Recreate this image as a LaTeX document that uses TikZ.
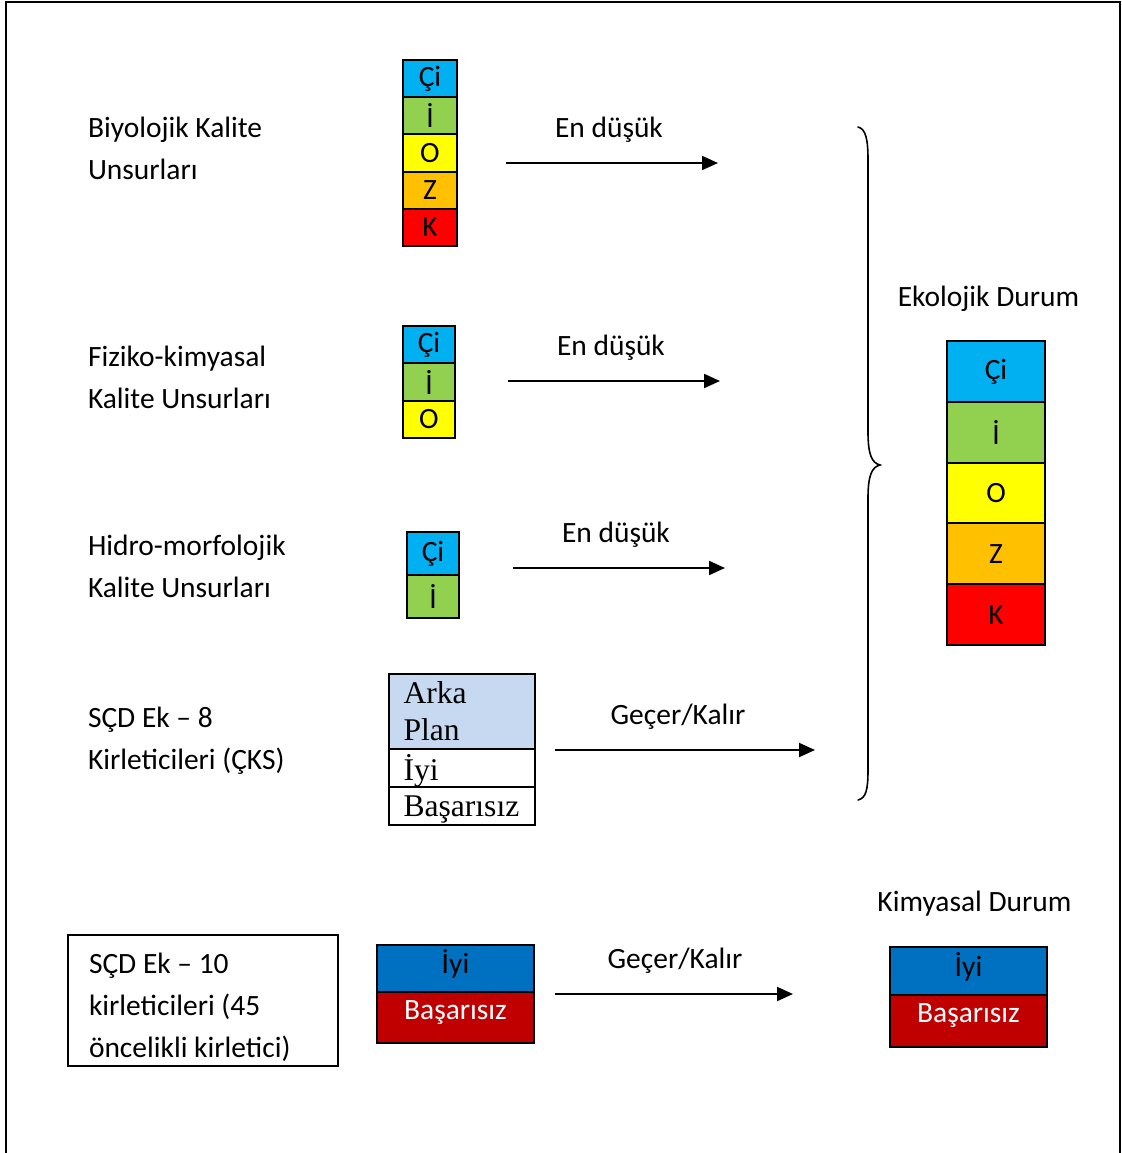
\documentclass[tikz,border=0pt]{standalone}
\usepackage{fontspec}
\setmainfont{Carlito}
\newfontfamily\serifface{Liberation Serif}
\usetikzlibrary{arrows.meta}
\definecolor{cCi}{HTML}{00B0F0}
\definecolor{cIy}{HTML}{92D050}
\definecolor{cO}{HTML}{FFFF00}
\definecolor{cZ}{HTML}{FFC000}
\definecolor{cK}{HTML}{FF0000}
\definecolor{cBlue}{HTML}{0070C0}
\definecolor{cRed}{HTML}{C00000}
\definecolor{cPale}{HTML}{C6D9F1}
% left-aligned block of lines whose baseline is that of the first line
\newcommand\linesblock[1]{\begin{tabular}[t]{@{}l@{}}#1\end{tabular}}
\begin{document}
\begin{tikzpicture}[x=0.75pt,y=-0.75pt,
  every node/.style={inner sep=0pt,outer sep=0pt},
  txt/.style={font=\fontsize{22.1}{31.5}\selectfont},
  lbl/.style={txt,anchor=base west},
  mid/.style={txt,anchor=base},
  serif/.style={font=\serifface\fontsize{23.7}{27.75}\selectfont,anchor=base west},
  cell/.style={draw,line width=1.4pt,txt},
  smallstack/.style={cell,minimum width=39pt},
  bigstack/.style={cell,minimum width=73.5pt,minimum height=45.6pt},
  wide/.style={cell,minimum width=117.75pt},
  tbl/.style={draw,line width=1.4pt,minimum width=109.5pt},
  arr/.style={line width=1.5pt,-{Triangle[length=12pt,width=10.5pt]}},
  brace/.style={line width=1.2pt,line cap=round}
]
\useasboundingbox (0,0) rectangle (1121,1153);
% open frame
\draw[line width=1.5pt] (6,1153) -- (6,2) -- (1119.5,2) -- (1119.5,1153);

% left labels
\node[lbl] (tBio) at (88,137) {\linesblock{Biyolojik Kalite\\Unsurları}};
\node[lbl] (tFiz) at (88,366) {\linesblock{Fiziko-kimyasal\\Kalite Unsurları}};
\node[lbl] (tHid) at (88,555) {\linesblock{Hidro-morfolojik\\Kalite Unsurları}};
\node[lbl] (tCks) at (88,727) {\linesblock{SÇD Ek – 8\\Kirleticileri (ÇKS)}};
\node[draw,line width=1.4pt,minimum width=202.5pt,minimum height=98.25pt] (box10) at (203,1000.5) {};
\node[lbl] (t10) at (89,973) {\linesblock{SÇD Ek – 10\\kirleticileri (45\\öncelikli kirletici)}};

% biological quality elements
\node[smallstack,minimum width=40.5pt,minimum height=27.9pt,fill=cCi] (b1) at (430,78.6) {Çi};
\node[smallstack,minimum width=40.5pt,minimum height=27.9pt,fill=cIy] (b2) at (430,115.8) {İ};
\node[smallstack,minimum width=40.5pt,minimum height=27.9pt,fill=cO]  (b3) at (430,153) {O};
\node[smallstack,minimum width=40.5pt,minimum height=27.9pt,fill=cZ]  (b4) at (430,190.2) {Z};
\node[smallstack,minimum width=40.5pt,minimum height=27.9pt,fill=cK]  (b5) at (430,227.4) {K};

% physico-chemical quality elements
\node[smallstack,minimum height=28pt,fill=cCi] (f1) at (429,344.7) {Çi};
\node[smallstack,minimum height=28pt,fill=cIy] (f2) at (429,382) {İ};
\node[smallstack,minimum height=28pt,fill=cO]  (f3) at (429,419.3) {O};

% hydromorphological quality elements
\node[smallstack,minimum height=32.25pt,fill=cCi] (h1) at (433,553.5) {Çi};
\node[smallstack,minimum height=32.25pt,fill=cIy] (h2) at (433,596.5) {İ};

% Annex 8 pollutants table
\node[tbl,minimum height=56.25pt,fill=cPale] (p1) at (462,711.5) {};
\node[tbl,minimum height=28.5pt] (p2) at (462,768) {};
\node[tbl,minimum height=28.5pt] (p3) at (462,806) {};
\node[serif] (p1t) at (403.5,703.3) {Arka};
\node[serif] (p1u) at (403.5,740) {Plan};
\node[serif] (p2t) at (403.5,780.7) {İyi};
\node[serif] (p3t) at (403.5,816.7) {Başarısız};

% Annex 10 pollutants
\node[wide,minimum height=35.25pt,fill=cBlue] (k1) at (455.5,968.5) {};
\node[wide,minimum height=38.25pt,fill=cRed] (k2) at (455.5,1017.5) {};
\node[mid] (k1t) at (455.5,973.3) {İyi};
\node[mid,text=white] (k2t) at (455.5,1019.3) {Başarısız};

% arrows
\coordinate (a1s) at (506,163); \coordinate (a1e) at (718,163);
\coordinate (a2s) at (508,381); \coordinate (a2e) at (720,381);
\coordinate (a3s) at (513,568); \coordinate (a3e) at (725,568);
\coordinate (a4s) at (555,750); \coordinate (a4e) at (815,750);
\coordinate (a5s) at (555,994); \coordinate (a5e) at (793,994);
\draw[arr] (a1s) -- (a1e);
\draw[arr] (a2s) -- (a2e);
\draw[arr] (a3s) -- (a3e);
\draw[arr] (a4s) -- (a4e);
\draw[arr] (a5s) -- (a5e);
\node[mid] (l1) at (609,137.5) {En düşük};
\node[mid] (l2) at (611,355.5) {En düşük};
\node[mid] (l3) at (616,542) {En düşük};
\node[mid] (l4) at (678,724.5) {Geçer/Kalır};
\node[mid] (l5) at (675,968.5) {Geçer/Kalır};

% curly brace
\coordinate (brTop) at (858,127);
\coordinate (brTip) at (880,465);
\coordinate (brBot) at (858,800);
\draw[brace] (brTop) .. controls (866,129) and (868,140) .. (868,160)
  -- (868,432) .. controls (868,455) and (872,463) .. (brTip)
  .. controls (872,467) and (868,475) .. (868,498)
  -- (868,770) .. controls (868,790) and (866,798) .. (brBot);

% ecological status
\node[mid] (eko) at (988.5,306.7) {Ekolojik Durum};
\node[bigstack,fill=cCi] (e1) at (996,371.4) {Çi};
\node[bigstack,fill=cIy] (e2) at (996,432.2) {İ};
\node[bigstack,fill=cO]  (e3) at (996,493) {O};
\node[bigstack,fill=cZ]  (e4) at (996,553.8) {Z};
\node[bigstack,fill=cK]  (e5) at (996,614.6) {K};

% chemical status
\node[mid] (kim) at (974.5,911.7) {Kimyasal Durum};
\node[wide,minimum height=36pt,fill=cBlue] (c1) at (968.5,971) {};
\node[wide,minimum height=39pt,fill=cRed] (c2) at (968.5,1021) {};
\node[mid] (c1t) at (968.5,976) {İyi};
\node[mid,text=white] (c2t) at (968.5,1022.7) {Başarısız};
\end{tikzpicture}
\end{document}
